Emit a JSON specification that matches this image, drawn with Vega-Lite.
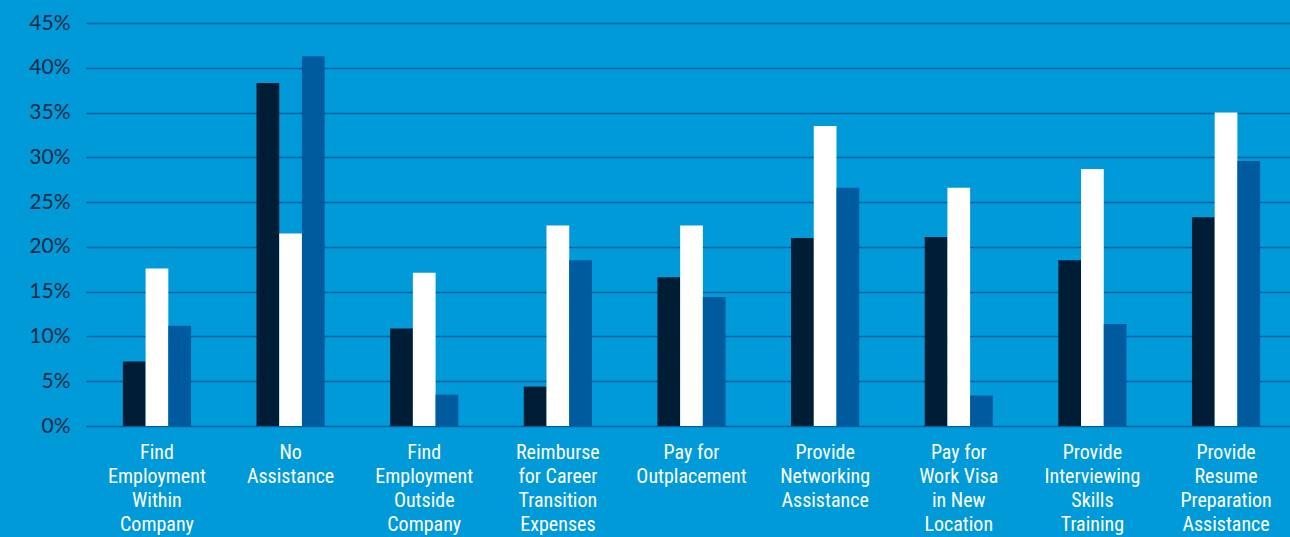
{
  "$schema": "https://vega.github.io/schema/vega-lite/v6.json",
  "autosize": {"type": "none"},
  "padding": {"left": 86, "top": 23, "right": 0, "bottom": 111},
  "width": 1211,
  "height": 403,
  "background": "#009ad9",
  "config": {"view": {"stroke": null}},
  "data": {"values": [
    {"cat": "Find|Employment|Within|Company", "series": "A", "value": 0.072},
    {"cat": "Find|Employment|Within|Company", "series": "B", "value": 0.176},
    {"cat": "Find|Employment|Within|Company", "series": "C", "value": 0.112},
    {"cat": "No|Assistance", "series": "A", "value": 0.383},
    {"cat": "No|Assistance", "series": "B", "value": 0.215},
    {"cat": "No|Assistance", "series": "C", "value": 0.413},
    {"cat": "Find|Employment|Outside|Company", "series": "A", "value": 0.109},
    {"cat": "Find|Employment|Outside|Company", "series": "B", "value": 0.171},
    {"cat": "Find|Employment|Outside|Company", "series": "C", "value": 0.035},
    {"cat": "Reimburse|for Career|Transition|Expenses", "series": "A", "value": 0.044},
    {"cat": "Reimburse|for Career|Transition|Expenses", "series": "B", "value": 0.224},
    {"cat": "Reimburse|for Career|Transition|Expenses", "series": "C", "value": 0.185},
    {"cat": "Pay for|Outplacement", "series": "A", "value": 0.166},
    {"cat": "Pay for|Outplacement", "series": "B", "value": 0.224},
    {"cat": "Pay for|Outplacement", "series": "C", "value": 0.144},
    {"cat": "Provide|Networking|Assistance", "series": "A", "value": 0.210},
    {"cat": "Provide|Networking|Assistance", "series": "B", "value": 0.335},
    {"cat": "Provide|Networking|Assistance", "series": "C", "value": 0.266},
    {"cat": "Pay for|Work Visa|in New|Location", "series": "A", "value": 0.211},
    {"cat": "Pay for|Work Visa|in New|Location", "series": "B", "value": 0.266},
    {"cat": "Pay for|Work Visa|in New|Location", "series": "C", "value": 0.034},
    {"cat": "Provide|Interviewing|Skills|Training", "series": "A", "value": 0.185},
    {"cat": "Provide|Interviewing|Skills|Training", "series": "B", "value": 0.287},
    {"cat": "Provide|Interviewing|Skills|Training", "series": "C", "value": 0.114},
    {"cat": "Provide|Resume|Preparation|Assistance", "series": "A", "value": 0.233},
    {"cat": "Provide|Resume|Preparation|Assistance", "series": "B", "value": 0.350},
    {"cat": "Provide|Resume|Preparation|Assistance", "series": "C", "value": 0.296}
  ]},
  "mark": {"type": "bar"},
  "encoding": {
    "x": {
      "field": "cat", "type": "nominal", "sort": null,
      "scale": {"paddingInner": 0.49, "paddingOuter": 0.276},
      "axis": {
        "title": null, "labelAngle": 0, "domain": false, "ticks": false,
        "labelExpr": "split(datum.label, '|')",
        "labelColor": "#ffffff", "labelFontSize": 20, "labelLineHeight": 24,
        "labelFont": "Roboto Condensed, Roboto, sans-serif",
        "labelPadding": 16, "labelBaseline": "top"
      }
    },
    "xOffset": {"field": "series", "type": "nominal", "scale": {"paddingInner": 0, "paddingOuter": 0}},
    "y": {
      "field": "value", "type": "quantitative",
      "scale": {"domain": [0, 0.45], "nice": false},
      "axis": {
        "title": null, "format": ".0%", "values": [0, 0.05, 0.1, 0.15, 0.2, 0.25, 0.3, 0.35, 0.4, 0.45],
        "domain": false, "ticks": false, "grid": true, "gridColor": "#00609f", "gridWidth": 1.5, "gridOpacity": 1,
        "labelColor": "#0d2a45", "labelFontSize": 21, "labelFont": "Lato, Open Sans, sans-serif",
        "labelPadding": 16
      }
    },
    "color": {
      "field": "series", "type": "nominal",
      "scale": {"domain": ["A", "B", "C"], "range": ["#001d36", "#ffffff", "#005a9e"]},
      "legend": null
    }
  }
}
